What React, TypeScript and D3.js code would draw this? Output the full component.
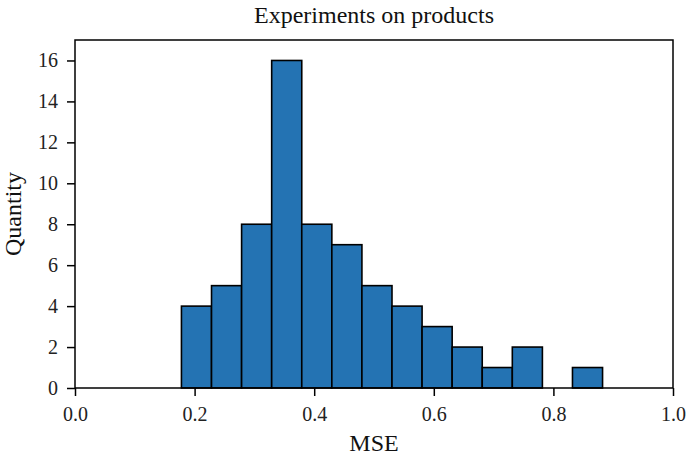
import React, { useRef, useEffect } from "react";
import * as d3 from "d3";

// histogram bins (MSE), equal width
const binEdges = [0.178, 0.2283, 0.2786, 0.3289, 0.3792, 0.4295, 0.4798, 0.5301, 0.5804, 0.6307, 0.681, 0.7313, 0.7816, 0.8319, 0.8822];
const counts = [4, 5, 8, 16, 8, 7, 5, 4, 3, 2, 1, 2, 0, 1];
const xTicks = [0, 0.2, 0.4, 0.6, 0.8, 1.0];
const yTicks = [0, 2, 4, 6, 8, 10, 12, 14, 16];

const App = () => {
  const ref = useRef<SVGSVGElement>(null);

  useEffect(() => {
    const width = 686;
    const height = 459;
    const m = { left: 75, right: 13, top: 40, bottom: 71 };
    const font = "'Liberation Serif', 'DejaVu Serif', serif";

    const svg = d3.select(ref.current);
    svg.selectAll("*").remove();
    svg.attr("width", width).attr("height", height);

    const x = d3.scaleLinear().domain([0, 1]).range([m.left, width - m.right]);
    const y = d3.scaleLinear().domain([0, 17]).range([height - m.bottom, m.top]);

    const bins = counts.map((c, i) => ({ x0: binEdges[i], x1: binEdges[i + 1], c }));

    svg
      .append("g")
      .selectAll("rect")
      .data(bins)
      .enter()
      .append("rect")
      .attr("x", (d) => x(d.x0))
      .attr("width", (d) => x(d.x1) - x(d.x0))
      .attr("y", (d) => y(d.c))
      .attr("height", (d) => y(0) - y(d.c))
      .attr("fill", "#2473b3")
      .attr("stroke", "#000")
      .style("stroke-width", "1.6px");

    // frame
    svg
      .append("rect")
      .attr("x", x(0))
      .attr("y", m.top)
      .attr("width", x(1) - x(0))
      .attr("height", y(0) - m.top)
      .attr("fill", "none")
      .attr("stroke", "#000")
      .style("stroke-width", "1.5px");

    const xAxis = svg
      .append("g")
      .attr("transform", `translate(0, ${y(0)})`)
      .call(d3.axisBottom(x).tickValues(xTicks).tickFormat(d3.format(".1f")).tickSize(8).tickPadding(11));
    const yAxis = svg
      .append("g")
      .attr("transform", `translate(${x(0)}, 0)`)
      .call(d3.axisLeft(y).tickValues(yTicks).tickSize(8).tickPadding(9));

    [xAxis, yAxis].forEach((g) => {
      g.select(".domain").remove();
      g.selectAll("line").attr("stroke", "#000").style("stroke-width", "1.5px");
      g.selectAll("text").attr("fill", "#222").style("font-family", font).style("font-size", "20px");
    });

    svg
      .append("text")
      .attr("x", (x(0) + x(1)) / 2)
      .attr("y", 23)
      .attr("text-anchor", "middle")
      .style("font-family", font)
      .style("font-size", "24px")
      .style("fill", "#111")
      .text("Experiments on products");

    svg
      .append("text")
      .attr("x", (x(0) + x(1)) / 2)
      .attr("y", 451)
      .attr("text-anchor", "middle")
      .style("font-family", font)
      .style("font-size", "24px")
      .style("fill", "#111")
      .text("MSE");

    svg
      .append("text")
      .attr("transform", `translate(21, ${(y(0) + m.top) / 2}) rotate(-90)`)
      .attr("text-anchor", "middle")
      .style("font-family", font)
      .style("font-size", "24px")
      .style("fill", "#111")
      .text("Quantity");
  }, []);

  return (
    <div style={{ position: "absolute", left: 0, top: 0 }}>
      <svg ref={ref}></svg>
    </div>
  );
};

export default App;
